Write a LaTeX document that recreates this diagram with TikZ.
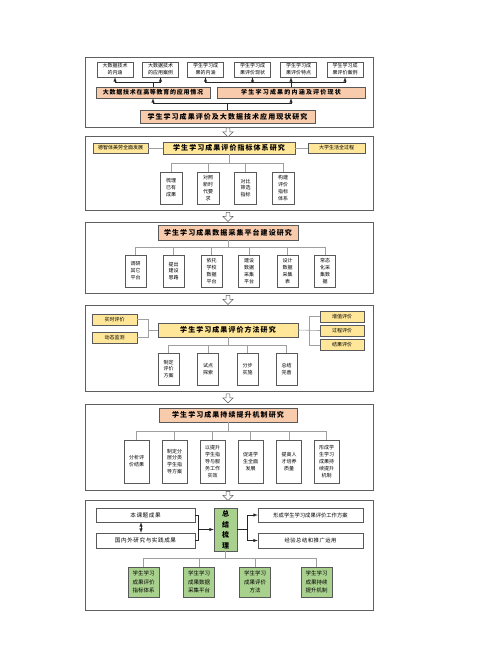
\documentclass[tikz,border=0pt]{standalone}
\usepackage{fontspec}
\setmainfont{Noto Sans CJK SC}
\usetikzlibrary{shapes.arrows}
\definecolor{peach}{RGB}{248,203,173}
\definecolor{gold}{RGB}{255,230,153}
\definecolor{leaf}{RGB}{169,209,142}
\definecolor{frame}{RGB}{95,95,95}
\tikzset{
  panel/.style={draw=frame, line width=1pt},
  cell/.style={draw=gray!70!black, line width=0.5pt, fill=white, inner sep=0pt, align=center, font=\fontsize{5}{6.9}\selectfont},
  band/.style={cell, font=\bfseries\fontsize{7}{8}\selectfont\addfontfeature{LetterSpace=15}},
  side/.style={cell, fill=gold, font=\fontsize{5}{6}\selectfont},
  tie/.style={draw=gray!75, line width=0.6pt},
  link/.style={draw=black!85, line width=0.5pt},
  down/.style={single arrow, draw=frame, fill=white, line width=0.5pt, shape border rotate=270, minimum width=10pt, minimum height=9pt, single arrow head extend=2pt, inner sep=1pt}
}
\begin{document}
\begin{tikzpicture}[x=1pt, y=-1pt]
	\useasboundingbox (0,0) rectangle (500,654);
	\draw[panel] (85,57) rectangle (373,127);
	\draw[panel] (85,136) rectangle (373,210);
	\draw[panel] (85,222) rectangle (373,293);
	\draw[panel] (85,305) rectangle (373,391);
	\draw[panel] (85,404) rectangle (373,490);
	\draw[panel] (85,500) rectangle (373,610);
	\node[down] (d1) at (228,131.5) {};
	\node[down] (d2) at (228,216) {};
	\node[down] (d3) at (228,299) {};
	\node[down] (d4) at (228,397.5) {};
	\node[down] (d5) at (228,495) {};

	\node[cell, minimum width=36pt, minimum height=15pt] (a1) at (115,69.5) {大数据技术\\的内涵};
	\node[cell, minimum width=36pt, minimum height=15pt] (a2) at (160.5,69.5) {大数据技术\\的应用案例};
	\node[cell, minimum width=36pt, minimum height=15pt] (a3) at (205.5,69.5) {学生学习成\\果的内涵};
	\node[cell, minimum width=36pt, minimum height=15pt] (a4) at (252.5,69.5) {学生学习成\\果评价现状};
	\node[cell, minimum width=36pt, minimum height=15pt] (a5) at (298.5,69.5) {学生学习成\\果评价特点};
	\node[cell, minimum width=36pt, minimum height=15pt] (a6) at (345,69.5) {学生学习成\\果评价案例};
	\node[band, fill=peach, minimum width=114pt, minimum height=11pt, font=\bfseries\fontsize{6}{7}\selectfont\addfontfeature{LetterSpace=12}] (m1) at (153,92.5) {大数据技术在高等教育的应用情况};
	\node[band, fill=peach, minimum width=148pt, minimum height=11pt, font=\bfseries\fontsize{6}{7}\selectfont\addfontfeature{LetterSpace=20}] (m2) at (291,92.5) {学生学习成果的内涵及评价现状};
	\node[band, fill=peach, minimum width=175pt, minimum height=13pt] (b0) at (227.5,116.5) {学生学习成果评价及大数据技术应用现状研究};
	\coordinate (c1) at (153,82);
	\coordinate (c2) at (291,82);
	\coordinate (c3) at (227.5,103);
	\draw[link] (m1.north) -- (c1);
	\draw[link, -latex] (c1) -| (a1.south);
	\draw[link, -latex] (c1) -| (a2.south);
	\draw[link] (m2.north) -- (c2);
	\draw[link, -latex] (c2) -| (a3.south);
	\draw[link, -latex] (c2) -| (a4.south);
	\draw[link, -latex] (c2) -- (c2 |- a5.south);
	\draw[link, -latex] (c2) -| (a6.south);
	\draw[link] (b0.north) -- (c3);
	\draw[link, -latex] (c3) -| (m1.south);
	\draw[link, -latex] (c3) -| (m2.south);

	\node[band, fill=gold, minimum width=132pt, minimum height=12pt] (t2) at (229,148) {学生学习成果评价指标体系研究};
	\node[side, minimum width=55pt, minimum height=10pt] (l2) at (120.5,148) {德智体美劳全面发展};
	\node[side, minimum width=57pt, minimum height=10pt] (r2) at (336.5,148) {大学生活全过程};
	\draw[tie] (l2.east) -- (t2.west);
	\draw[tie] (t2.east) -- (r2.west);
	\node[cell, minimum width=22pt, minimum height=32pt] (e1) at (171,188) {梳理\\已有\\成果};
	\node[cell, minimum width=22pt, minimum height=32pt] (e2) at (208,188) {对照\\新时\\代要\\求};
	\node[cell, minimum width=22pt, minimum height=32pt] (e3) at (245.5,188) {对比\\筛选\\指标};
	\node[cell, minimum width=22pt, minimum height=32pt] (e4) at (283,188) {构建\\评价\\指标\\体系};
	\coordinate (j2) at (229,163);
	\draw[tie] (t2.south) -- (j2);
	\foreach \b in {e1,e2,e3,e4} \draw[tie] (j2) -| (\b.north);

	\node[band, fill=peach, minimum width=140pt, minimum height=15pt] (t3) at (228,232.5) {学生学习成果数据采集平台建设研究};
	\node[cell, minimum width=21pt, minimum height=32pt] (f1) at (135.5,271) {调研\\其它\\平台};
	\node[cell, minimum width=21pt, minimum height=32pt] (f2) at (173.5,271) {提出\\建设\\思路};
	\node[cell, minimum width=21pt, minimum height=32pt] (f3) at (211.5,271) {依托\\学校\\数据\\平台};
	\node[cell, minimum width=21pt, minimum height=32pt] (f4) at (249,271) {建设\\数据\\采集\\平台};
	\node[cell, minimum width=21pt, minimum height=32pt] (f5) at (287.5,271) {设计\\数据\\采集\\表};
	\node[cell, minimum width=21pt, minimum height=32pt] (f6) at (325,271) {常态\\化采\\集数\\据};
	\coordinate (j3) at (228,247);
	\draw[tie] (t3.south) -- (j3);
	\foreach \b in {f1,f2,f3,f4,f5,f6} \draw[tie] (j3) -| (\b.north);

	\node[band, fill=gold, minimum width=140pt, minimum height=14pt] (t4) at (228,330) {学生学习成果评价方法研究};
	\node[side, minimum width=45pt, minimum height=11pt] (p1) at (114.5,319.5) {实时评价};
	\node[side, minimum width=45pt, minimum height=11pt] (p2) at (114.5,337.5) {动态监测};
	\node[side, minimum width=44pt, minimum height=11pt] (q1) at (342,316.5) {增值评价};
	\node[side, minimum width=44pt, minimum height=11pt] (q2) at (342,330.5) {过程评价};
	\node[side, minimum width=44pt, minimum height=11pt] (q3) at (342,345) {结果评价};
	\coordinate (c6) at (148,330);
	\coordinate (c7) at (309,330);
	\draw[tie] (p1.east) -| (c6);
	\draw[tie] (p2.east) -| (c6);
	\draw[tie] (c6) -- (t4.west);
	\draw[tie] (q1.west) -| (c7);
	\draw[tie] (q3.west) -| (c7);
	\draw[tie] (t4.east) -- (q2.west);
	\node[cell, minimum width=21pt, minimum height=32pt] (g1) at (168.5,369) {制定\\评价\\方案};
	\node[cell, minimum width=21pt, minimum height=32pt] (g2) at (208,369) {试点\\探索};
	\node[cell, minimum width=21pt, minimum height=32pt] (g3) at (247.5,369) {分步\\实施};
	\node[cell, minimum width=21pt, minimum height=32pt] (g4) at (286.5,369) {总结\\完善};
	\coordinate (j4) at (228,345);
	\draw[tie] (t4.south) -- (j4);
	\foreach \b in {g1,g2,g3,g4} \draw[tie] (j4) -| (\b.north);

	\node[band, fill=peach, minimum width=138pt, minimum height=14pt] (t5) at (228,415) {学生学习成果持续提升机制研究};
	\node[cell, minimum width=25pt, minimum height=43pt] (h1) at (136.5,461.5) {分析评\\价结果};
	\node[cell, minimum width=25pt, minimum height=43pt] (h2) at (174.5,461.5) {制定分\\层分类\\学生指\\导方案};
	\node[cell, minimum width=25pt, minimum height=43pt] (h3) at (212.5,461.5) {以提升\\学生指\\导与服\\务工作\\实效};
	\node[cell, minimum width=25pt, minimum height=43pt] (h4) at (250.5,461.5) {促进学\\生全面\\发展};
	\node[cell, minimum width=25pt, minimum height=43pt] (h5) at (289,461.5) {提高人\\才培养\\质量};
	\node[cell, minimum width=25pt, minimum height=43pt] (h6) at (326.5,461.5) {形成学\\生学习\\成果持\\续提升\\机制};
	\coordinate (j5) at (228,431);
	\draw[tie] (t5.south) -- (j5);
	\foreach \b in {h1,h2,h3,h4,h5,h6} \draw[tie] (j5) -| (\b.north);

	\node[cell, minimum width=99pt, minimum height=14pt, font=\fontsize{5.6}{7}\selectfont\addfontfeature{LetterSpace=10}] (u1) at (145.5,515) {本课题成果};
	\node[cell, minimum width=99pt, minimum height=15pt, font=\fontsize{5.6}{7}\selectfont\addfontfeature{LetterSpace=10}] (u2) at (145.5,540.5) {国内外研究与实践成果};
	\node[cell, fill=leaf, minimum width=23pt, minimum height=43pt, font=\bfseries\fontsize{7}{10.5}\selectfont] (g0) at (225.5,529.5) {总\\结\\梳\\理};
	\node[cell, minimum width=105pt, minimum height=14pt, font=\fontsize{5.3}{7}\selectfont] (v1) at (310.5,515) {形成学生学习成果评价工作方案};
	\node[cell, minimum width=105pt, minimum height=15pt, font=\fontsize{5.3}{7}\selectfont\addfontfeature{LetterSpace=10}] (v2) at (310.5,540.5) {经验总结和推广运用};
	\draw[link, latex-latex] ([xshift=-4.5pt]u1.south) -- ([xshift=-4.5pt]u2.north);
	\coordinate (c9) at (198,529.5);
	\coordinate (c10) at (247,529.5);
	\draw[link] (u1.east) -| (c9);
	\draw[link] (u2.east) -| (c9);
	\draw[link, -latex] (c9) -- (g0.west);
	\draw[link] (g0.east) -- (c10);
	\draw[link, -latex] (c10) |- (v1.west);
	\draw[link, -latex] (c10) |- (v2.west);
	\node[cell, fill=leaf, minimum width=31pt, minimum height=30pt, font=\fontsize{5.5}{8.5}\selectfont] (k1) at (143.5,582) {学生学习\\成果评价\\指标体系};
	\node[cell, fill=leaf, minimum width=31pt, minimum height=30pt, font=\fontsize{5.5}{8.5}\selectfont] (k2) at (199,582) {学生学习\\成果数据\\采集平台};
	\node[cell, fill=leaf, minimum width=31pt, minimum height=30pt, font=\fontsize{5.5}{8.5}\selectfont] (k3) at (255,582) {学生学习\\成果评价\\方法};
	\node[cell, fill=leaf, minimum width=31pt, minimum height=30pt, font=\fontsize{5.5}{8.5}\selectfont] (k4) at (316.5,582) {学生学习\\成果持续\\提升机制};
	\coordinate (j6) at (225.5,558);
	\draw[tie] (g0.south) -- (j6);
	\foreach \b in {k1,k2,k3,k4} \draw[tie] (j6) -| (\b.north);
\end{tikzpicture}
\end{document}
